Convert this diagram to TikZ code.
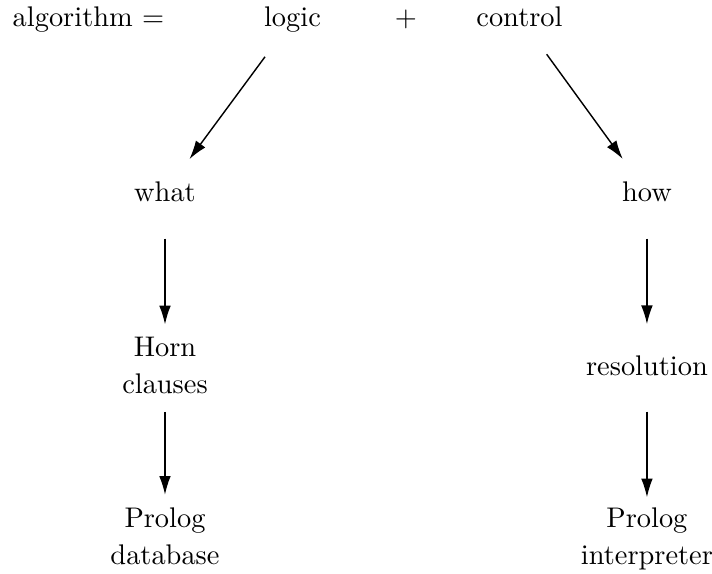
\documentclass[tikz,border=0pt]{standalone}
\usepackage{amsmath}
\usepackage{tikz}
\usetikzlibrary{arrows.meta}

\begin{document}
\begin{tikzpicture}[line width=.5pt,x=1cm,y=1cm,
  word/.style={inner sep=0pt,align=center,font=\fontsize{10}{13}\selectfont},
  arr/.style={-{Latex[length=6.6pt,width=4.1pt]},shorten <=16.3pt,shorten >=14.5pt}]
\useasboundingbox (0,0) rectangle (8.812,7.092);
% top line
\node[word,anchor=base west] (alg) at (0.149,6.764) {algorithm $=$};
\node[word,anchor=base] (logic) at (3.620,6.764) {logic};
\node[word,anchor=base] (plus) at (5.025,6.764) {$+$};
\node[word,anchor=base] (control) at (6.429,6.764) {control};
% logic side
\node[word,anchor=base] (what) at (2.042,4.592) {what};
\node[word,anchor=north] (horn) at (2.042,2.926) {Horn\\clauses};
\node[word,anchor=north] (db) at (2.042,0.820) {Prolog\\database};
% control side
\node[word,anchor=base] (how) at (8.007,4.592) {how};
\node[word,anchor=base] (res) at (8.007,2.450) {resolution};
\node[word,anchor=north] (interp) at (8.007,0.820) {Prolog\\interpreter};
% arrows
\draw[arr] (logic.center) -- (what.center);
\draw[arr] (control.center) -- (how.center);
\draw[arr] (what.center) -- (horn.center);
\draw[arr] (horn.center) -- (db.center);
\draw[arr] (how.center) -- (res.center);
\draw[arr] (res.center) -- (interp.center);
\end{tikzpicture}
\end{document}
